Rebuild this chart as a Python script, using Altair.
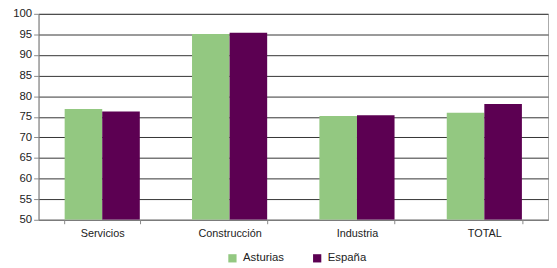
import altair as alt
import pandas as pd

categories = ["Servicios", "Construcción", "Industria", "TOTAL"]
series = ["Asturias", "España"]
asturias = [76.9, 95.1, 75.2, 76.0]
espana = [76.3, 95.4, 75.4, 78.1]
colors = ["#93C881", "#5C0052"]

rows = []
for c, a, e in zip(categories, asturias, espana):
    rows.append({"cat": c, "serie": "Asturias", "valor": a})
    rows.append({"cat": c, "serie": "España", "valor": e})
df = pd.DataFrame(rows)

font = "Liberation Sans"

chart = alt.Chart(df).mark_bar(clip=True).encode(
    x=alt.X("cat:N", sort=categories, title=None,
            scale=alt.Scale(paddingInner=0.41, paddingOuter=0.205),
            axis=alt.Axis(labelAngle=0, tickBand="extent", tickSize=4,
                          labelPadding=4, domainColor="#888", tickColor="#888",
                          labelFont=font, labelFontSize=11, labelColor="#222")),
    xOffset=alt.XOffset("serie:N", sort=series,
                        scale=alt.Scale(paddingInner=0, paddingOuter=0)),
    y=alt.Y("valor:Q", title=None,
            scale=alt.Scale(domain=[50, 100], zero=False, nice=False),
            axis=alt.Axis(values=list(range(50, 101, 5)), grid=True,
                          gridColor="#333", gridWidth=1, tickSize=5,
                          labelPadding=2, domainColor="#888", tickColor="#888",
                          labelFont=font, labelFontSize=11.5, labelColor="#222")),
    y2=alt.datum(50),
    color=alt.Color("serie:N", sort=series,
                    scale=alt.Scale(domain=series, range=colors),
                    legend=alt.Legend(title=None, orient="none", direction="horizontal",
                                      legendX=191, legendY=242,
                                      symbolType="square", symbolSize=70,
                                      symbolStrokeWidth=0, columnPadding=27,
                                      labelOffset=5,
                                      labelFont=font, labelFontSize=11.5,
                                      labelColor="#222")),
).properties(
    width=517, height=209,
    autosize=alt.AutoSizeParams(type="none"),
    padding={"left": 31, "top": 4, "right": 1, "bottom": 45},
).configure_view(stroke="#aaa", strokeWidth=1)

chart.save("out.html", embed_options={"renderer": "svg", "actions": False})
